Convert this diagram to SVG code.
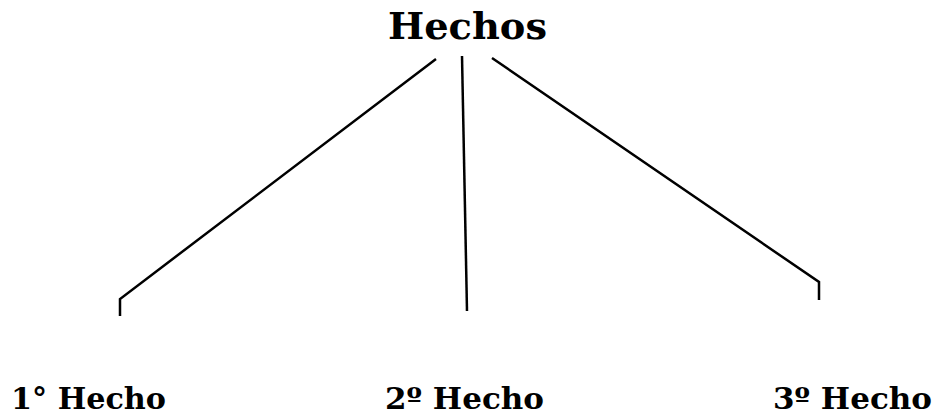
<svg xmlns="http://www.w3.org/2000/svg" width="937" height="417" viewBox="0 0 937 417">
<style>
.t{font-family:"DejaVu Serif","Liberation Serif",serif;font-weight:bold;fill:#000}
.c{fill:none;stroke:#000;stroke-width:2.5;stroke-linejoin:miter;stroke-linecap:butt}
</style>
<rect width="937" height="417" fill="#fff"/>
<g id="root"><text class="t" x="388" y="39" font-size="37" textLength="159" lengthAdjust="spacingAndGlyphs">Hechos</text></g>
<g id="connectors">
<polyline class="c" points="436,59 120,299 120,316"/>
<polyline class="c" points="462,56 467,311"/>
<polyline class="c" points="492,58 819,282 819,300"/>
</g>
<g id="h1"><text class="t" x="11" y="409" font-size="30" textLength="155" lengthAdjust="spacingAndGlyphs">1° Hecho</text></g>
<g id="h2"><text class="t" x="385" y="409" font-size="30" textLength="159" lengthAdjust="spacingAndGlyphs">2º Hecho</text></g>
<g id="h3"><text class="t" x="773" y="409" font-size="30" textLength="159" lengthAdjust="spacingAndGlyphs">3º Hecho</text></g>
</svg>
